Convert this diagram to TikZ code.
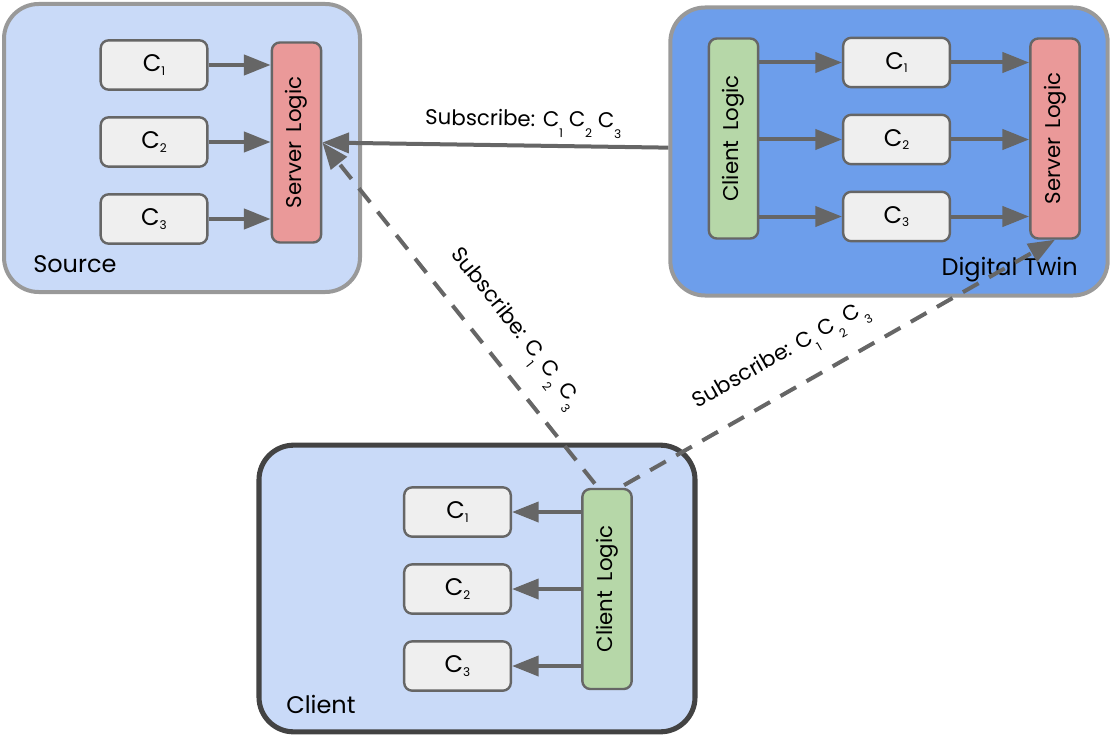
\documentclass[tikz,border=0pt]{standalone}
\usepackage{fontspec}
\setmainfont{Poppins}
\usetikzlibrary{arrows.meta,positioning}
\definecolor{paleblue}{HTML}{C9DAF8}
\definecolor{twinblue}{HTML}{6D9EEB}
\definecolor{framegray}{HTML}{999999}
\definecolor{framedark}{HTML}{434343}
\definecolor{edgegray}{HTML}{666666}
\definecolor{chanfill}{HTML}{EFEFEF}
\definecolor{serverred}{HTML}{EA9999}
\definecolor{clientgreen}{HTML}{B6D7A8}
\newcommand{\csub}[1]
        {\raisebox{-2.5pt}{\fontsize{9}{9}\selectfont #1}}
\newcommand{\lsub}[1]
        {\raisebox{-8pt}{\fontsize{9}{9}\selectfont #1}}

\begin{document}
\begin{tikzpicture}[x=0.75pt,y=-0.75pt,
  container/.style={rounded corners=26pt, line width=3pt, draw=framegray, fill=paleblue, minimum width=267pt, minimum height=216pt},
  chan/.style={draw=edgegray, fill=chanfill, line width=1.8pt, rounded corners=6pt, minimum width=80pt, minimum height=37pt, inner sep=0pt, font=\fontsize{18}{18}\selectfont},
  logic/.style={draw=edgegray, line width=1.8pt, rounded corners=6pt, minimum width=37pt, minimum height=150pt, inner sep=0pt, font=\fontsize{16}{16}\selectfont},
  flow/.style={draw=edgegray, line width=3pt, -{Triangle[length=20pt,width=15pt]}},
  subscribeline/.style={flow, dash pattern=on 13.5pt off 9pt, shorten <=4pt},
  subtag/.style={font=\fontsize{16}{16}\selectfont, inner sep=0pt, sloped},
  boxname/.style={font=\fontsize{18}{18}\selectfont, inner sep=0pt}
]
\useasboundingbox (0,0) rectangle (1112,738);

% containers
\node[container] (source) at (182,148) {};
\node[container, fill=twinblue, minimum width=328pt] (twin) at (889,151.5) {};
\node[container, draw=framedark, line width=3.8pt, minimum width=327pt, minimum height=215pt] (client) at (477,588.5) {};
\node[boxname, anchor=base west] (sourcename) at (33,272) {Source};
\node[boxname, anchor=base east] (twinname) at (1078,275) {Digital Twin};
\node[boxname, anchor=base west] (clientname) at (286,713) {Client};

% source
\node[chan] (sc1) at (154,65) {C\csub{1}};
\node[chan] (sc2) at (154,142) {C\csub{2}};
\node[chan] (sc3) at (154,219) {C\csub{3}};
\node[logic, fill=serverred] (ssl) at (296.5,142.5) {\rotatebox{90}{Server\hspace{0.45em}Logic}};
\draw[flow] (sc1) -- (sc1 -| ssl.west);
\draw[flow] (sc2) -- (sc2 -| ssl.west);
\draw[flow] (sc3) -- (sc3 -| ssl.west);

% digital twin
\node[logic, fill=clientgreen] (dcl) at (733.5,138.5) {\rotatebox{90}{Client\hspace{0.45em}Logic}};
\node[chan] (dc1) at (896.5,62.5) {C\csub{1}};
\node[chan] (dc2) at (896.5,139.5) {C\csub{2}};
\node[chan] (dc3) at (896.5,216.5) {C\csub{3}};
\node[logic, fill=serverred] (dsl) at (1055,138.5) {\rotatebox{90}{Server\hspace{0.45em}Logic}};
\draw[flow] (dc1 -| dcl.east) -- (dc1);
\draw[flow] (dc2 -| dcl.east) -- (dc2);
\draw[flow] (dc3 -| dcl.east) -- (dc3);
\draw[flow] (dc1) -- (dc1 -| dsl.west);
\draw[flow] (dc2) -- (dc2 -| dsl.west);
\draw[flow] (dc3) -- (dc3 -| dsl.west);

% client
\node[chan] (cc1) at (457.5,512) {C\csub{1}};
\node[chan] (cc2) at (457.5,589) {C\csub{2}};
\node[chan] (cc3) at (457.5,666) {C\csub{3}};
\node[logic, fill=clientgreen] (ccl) at (607,589) {\rotatebox{90}{Client\hspace{0.45em}Logic}};
\draw[flow] (cc1 -| ccl.west) -- (cc1);
\draw[flow] (cc2 -| ccl.west) -- (cc2);
\draw[flow] (cc3 -| ccl.west) -- (cc3);

% subscriptions
\draw[flow] (twin.179) -- node[subtag, pos=0.42, above=5pt] (tag1) {Subscribe: C\lsub{1} C\lsub{2} C\lsub{3}} (ssl.east);
\draw[subscribeline] (ccl.95) -- node[subtag, pos=0.40, above=13pt] (tag2) {Subscribe: C\lsub{1} C\lsub{2} C\lsub{3}} (ssl.east);
\draw[subscribeline] (ccl.83) -- node[subtag, pos=0.41, above=13pt] (tag3) {Subscribe: C\lsub{1} C\lsub{2} C\lsub{3}} (dsl.south);
\end{tikzpicture}
\end{document}
